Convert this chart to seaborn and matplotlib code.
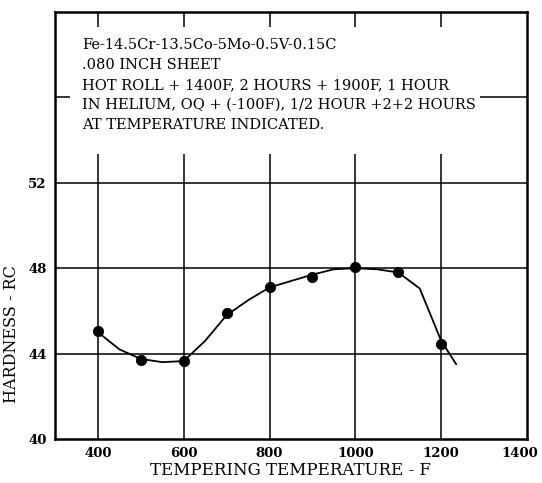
import matplotlib
matplotlib.use("Agg")
import matplotlib.pyplot as plt
import matplotlib.transforms as mtransforms
from matplotlib.patches import Rectangle
import seaborn as sns
import pandas as pd

temps = [400, 500, 600, 700, 800, 900, 1000, 1100, 1200]
hardness = [45.05, 43.7, 43.65, 45.9, 47.1, 47.6, 48.05, 47.8, 44.45]

curve_x = [400, 450, 500, 550, 600, 650, 700, 750, 800, 850, 900, 950, 1000, 1050, 1100, 1150, 1200, 1235]
curve_y = [45.0, 44.2, 43.75, 43.6, 43.65, 44.6, 45.8, 46.5, 47.1, 47.4, 47.7, 47.95, 48.0, 47.95, 47.8, 47.05, 44.6, 43.5]

x_ticks = [400, 600, 800, 1000, 1200, 1400]
y_ticks = [40, 44, 48, 52]
grid_y = [44, 48, 52, 56]
grid_x = [400, 600, 800, 1000, 1200]

note = ("Fe-14.5Cr-13.5Co-5Mo-0.5V-0.15C\n"
        ".080 INCH SHEET\n"
        "HOT ROLL + 1400F, 2 HOURS + 1900F, 1 HOUR\n"
        "IN HELIUM, OQ + (-100F), 1/2 HOUR +2+2 HOURS\n"
        "AT TEMPERATURE INDICATED.")

sns.set_style("white")
plt.rcParams['font.family'] = ['DejaVu Serif']
plt.rcParams['text.color'] = 'black'
plt.rcParams['axes.labelcolor'] = 'black'
plt.rcParams['xtick.color'] = 'black'
plt.rcParams['ytick.color'] = 'black'

fig = plt.figure(figsize=(5.42, 4.83), dpi=100)
ax = fig.add_axes([55/542, 1 - 439/483, (527-55)/542, (439-12)/483])

for gx in grid_x:
    ax.axvline(gx, color='black', lw=1.1, zorder=1)
for gy in grid_y:
    ax.axhline(gy, color='black', lw=1.1, zorder=1)

# white panel behind the note (hides the grid there)
ax.add_patch(Rectangle((335, 53.35), 1290 - 335, 59.3 - 53.35, facecolor='white',
                       edgecolor='none', zorder=2))

df_pts = pd.DataFrame({"T": temps, "H": hardness})
df_curve = pd.DataFrame({"T": curve_x, "H": curve_y})
sns.lineplot(data=df_curve, x="T", y="H", ax=ax, color='black', lw=1.3, zorder=3, sort=False)
sns.scatterplot(data=df_pts, x="T", y="H", ax=ax, color='black', s=55, edgecolor='black', zorder=4)

ax.set_xlim(300, 1400)
ax.set_ylim(40, 60)
ax.set_xticks(x_ticks)
ax.set_yticks(y_ticks)
ax.set_xticklabels([str(t) for t in x_ticks], fontsize=9.5, fontweight='bold')
ax.set_yticklabels([str(t) for t in y_ticks], fontsize=9.5, fontweight='bold')
ax.tick_params(length=0, pad=6)
last = ax.get_xticklabels()[-1]
last.set_transform(last.get_transform() + mtransforms.ScaledTranslation(-7/100, 0, fig.dpi_scale_trans))
for sp in ax.spines.values():
    sp.set_color('black')
    sp.set_linewidth(1.8)

ax.set_xlabel("TEMPERING TEMPERATURE - F", fontsize=12, labelpad=1)
ax.set_ylabel("HARDNESS - RC", fontsize=11.5, labelpad=8)
ax.yaxis.set_label_coords(-0.075, 0.245)

ax.text(82/542, 1 - 38/483, note, transform=fig.transFigure, fontsize=10.5,
        va='top', ha='left', linespacing=1.55, zorder=5)

fig.savefig("out.png", dpi=100)
